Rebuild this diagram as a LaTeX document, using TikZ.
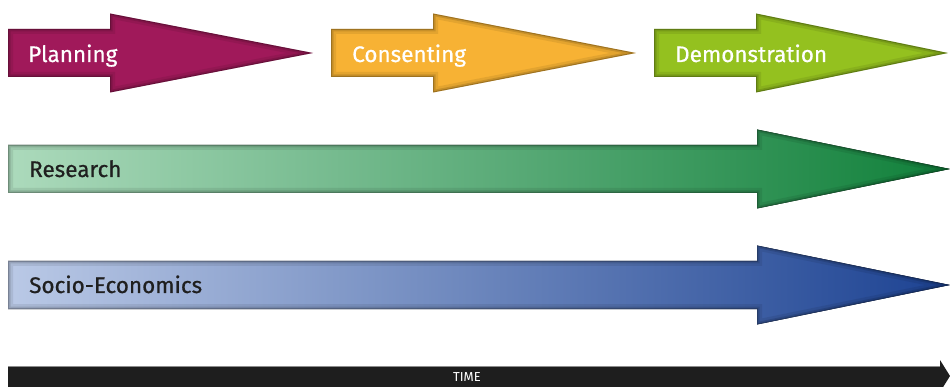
\documentclass[tikz,border=0pt]{standalone}
\usepackage{fontspec}
\setmainfont{Fira Sans}
\usepackage{tikz}
\usetikzlibrary{positioning,calc}
\definecolor{planningcol}{RGB}{160,25,90}
\definecolor{consentcol}{RGB}{247,178,52}
\definecolor{democol}{RGB}{148,193,31}
\definecolor{researchL}{RGB}{172,218,188}
\definecolor{researchR}{RGB}{16,128,58}
\definecolor{socioL}{RGB}{186,201,230}
\definecolor{socioR}{RGB}{28,66,146}
\definecolor{timecol}{RGB}{30,30,30}
\tikzstyle{phasetext} = [anchor=base west, inner sep=0pt, font=\fontsize{22.5}{26}\selectfont\addfontfeatures{FakeBold=0.6}]
\tikzstyle{timetext} = [inner sep=0pt, text=white, font=\fontsize{13}{14}\selectfont]
% arrow outline: start x, head x, tip x, middle y
\newcommand{\arrowpath}[4]{(#1,#4-24) -- (#2,#4-24) -- (#2,#4-39.5) -- (#3,#4) -- (#2,#4+39.5) -- (#2,#4+24) -- (#1,#4+24) -- cycle}
\newcommand{\phasearrow}[5]{%
  \fill[#1] \arrowpath{#2}{#3}{#4}{#5};
  \begin{scope}
    \clip \arrowpath{#2}{#3}{#4}{#5};
    \draw[line width=10pt, black, opacity=.08] \arrowpath{#2}{#3}{#4}{#5};
    \draw[line width=5pt, black, opacity=.12] \arrowpath{#2}{#3}{#4}{#5};
    \draw[line width=2pt, black, opacity=.2] \arrowpath{#2}{#3}{#4}{#5};
  \end{scope}}

\begin{document}
\begin{tikzpicture}[x=1pt, y=-1pt]
        \useasboundingbox (0,0) rectangle (950,387);
        \phasearrow{planningcol}{8}{110}{313}{53}
        \phasearrow{consentcol}{331}{433}{636}{53}
        \phasearrow{democol}{654}{756}{948}{53}
        \phasearrow{left color=researchL, right color=researchR}{8}{757}{950}{169}
        \phasearrow{left color=socioL, right color=socioR}{8}{757}{950}{285}
        \node[phasetext, text=white] (planning) at (28,62) {Planning};
        \node[phasetext, text=white] (consenting) at (352,62) {Consenting};
        \node[phasetext, text=white] (demonstration) at (675,62) {Demonstration};
        \node[phasetext, text=black!88] (research) at (29,177) {Research};
        \node[phasetext, text=black!88] (socio) at (29,293) {Socio-Economics};
        % time axis
        \fill[timecol] (8,366) -- (940,366) -- (940,360) -- (950,376) -- (940,392) -- (940,387) -- (8,387) -- cycle;
        \draw[black!45, line width=.8pt] (8,366.4) -- (940,366.4);
        \node[timetext] (time) at (467,377) {TIME};
\end{tikzpicture}
\end{document}
